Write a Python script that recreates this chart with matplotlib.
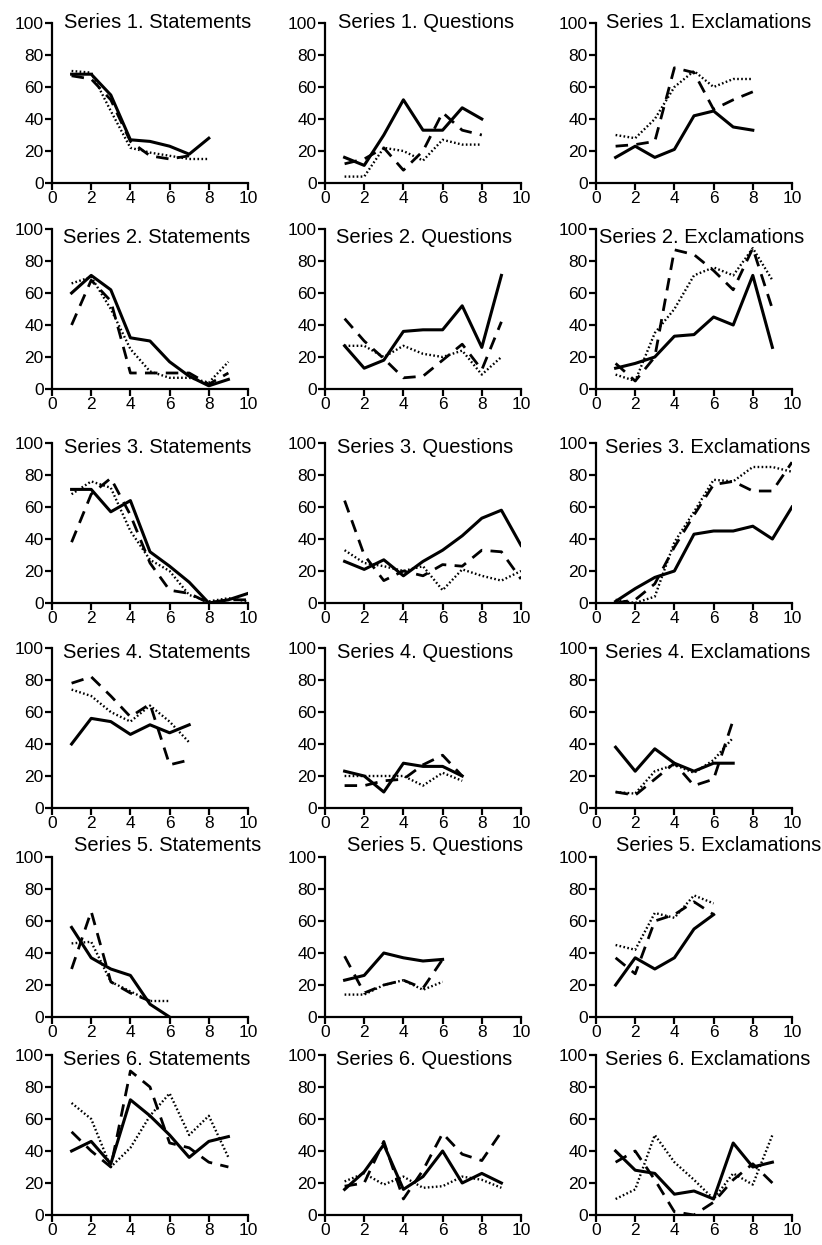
import matplotlib
matplotlib.use("Agg")
import matplotlib.pyplot as plt

plt.rcParams['font.family'] = ['Liberation Sans', 'DejaVu Sans']

# each panel: (solid, dashed, dotted), x runs 1..len
s1_statements = ([68, 68, 55, 27, 26, 23, 18, 28],
                 [67, 65, 52, 26, 17, 15, 17],
                 [70, 69, 45, 22, 19, 17, 15, 15])
s1_questions = ([16, 11, 30, 52, 33, 33, 47, 40],
                [12, 15, 22, 8, 20, 44, 33, 30],
                [4, 4, 22, 20, 14, 27, 24, 24])
s1_exclamations = ([16, 23, 16, 21, 42, 45, 35, 33],
                   [23, 24, 26, 72, 69, 46, 52, 57],
                   [30, 28, 40, 60, 70, 60, 65, 65])

s2_statements = ([60, 71, 62, 32, 30, 17, 8, 2, 6],
                 [40, 68, 55, 10, 10, 10, 10, 3, 10],
                 [66, 70, 50, 25, 11, 7, 7, 4, 17])
s2_questions = ([27, 13, 18, 36, 37, 37, 52, 26, 71],
                [44, 30, 19, 7, 8, 18, 28, 12, 42],
                [27, 27, 20, 27, 22, 20, 24, 9, 20])
s2_exclamations = ([13, 16, 20, 33, 34, 45, 40, 71, 26],
                   [16, 5, 20, 87, 84, 74, 62, 88, 50],
                   [9, 5, 35, 50, 71, 76, 71, 88, 68])

s3_statements = ([71, 71, 57, 64, 32, 23, 13, 0, 2, 6],
                 [38, 68, 78, 55, 25, 8, 6, 0, 2, 2],
                 [68, 76, 72, 45, 27, 20, 5, 1, 3, 1])
s3_questions = ([26, 21, 27, 17, 26, 33, 42, 53, 58, 36],
                [64, 30, 14, 20, 17, 24, 23, 33, 32, 15],
                [33, 25, 23, 20, 23, 8, 21, 17, 14, 20])
s3_exclamations = ([1, 9, 16, 20, 43, 45, 45, 48, 40, 60],
                   [0, 2, 12, 35, 55, 74, 76, 70, 70, 88],
                   [2, 0, 4, 38, 57, 77, 76, 85, 85, 82])

s4_statements = ([40, 56, 54, 46, 52, 47, 52],
                 [78, 82, 70, 57, 65, 27, 30],
                 [74, 70, 60, 54, 64, 54, 41])
s4_questions = ([23, 20, 10, 28, 26, 26, 20],
                [14, 14, 17, 18, 27, 33, 20],
                [20, 20, 20, 20, 14, 22, 17])
s4_exclamations = ([38, 23, 37, 28, 23, 28, 28],
                   [10, 8, 18, 28, 14, 18, 55],
                   [10, 9, 23, 27, 22, 30, 44])

s5_statements = ([56, 37, 30, 26, 8, 0],
                 [30, 66, 22, 15, 10],
                 [46, 47, 22, 16, 10, 10])
s5_questions = ([23, 26, 40, 37, 35, 36],
                [38, 15, 20, 23, 18, 36],
                [14, 14, 20, 23, 17, 22])
s5_exclamations = ([20, 37, 30, 37, 55, 64],
                   [37, 27, 60, 64, 72, 64],
                   [45, 42, 65, 62, 76, 71])

s6_statements = ([40, 46, 32, 72, 62, 50, 36, 46, 49],
                 [52, 40, 30, 90, 80, 45, 42, 33, 30],
                 [70, 60, 30, 42, 62, 76, 50, 62, 36])
s6_questions = ([16, 27, 44, 16, 24, 40, 20, 26, 20],
                [18, 20, 46, 10, 28, 51, 38, 34, 52],
                [21, 26, 19, 24, 17, 18, 24, 22, 17])
s6_exclamations = ([40, 28, 26, 13, 15, 10, 45, 30, 33],
                   [33, 40, 22, 2, 0, 8, 22, 32, 20],
                   [10, 16, 50, 33, 22, 10, 26, 19, 50])

panels = [
    [s1_statements, s1_questions, s1_exclamations],
    [s2_statements, s2_questions, s2_exclamations],
    [s3_statements, s3_questions, s3_exclamations],
    [s4_statements, s4_questions, s4_exclamations],
    [s5_statements, s5_questions, s5_exclamations],
    [s6_statements, s6_questions, s6_exclamations],
]
kinds = ['Statements', 'Questions', 'Exclamations']

W, H = 822, 1245
fig = plt.figure(figsize=(W / 100, H / 100), dpi=100)

col_left = [52, 325, 596]
row_top = [23, 229, 443, 648, 857, 1055]
ax_w, ax_h = 196, 160
title_y = [97, 91, 94, 94, 104, 94]
title_x = [[0.6, 0.65, 0.5], [0.55, 0.55, 0.15], [0.6, 0.6, 0.45],
           [0.55, 0.6, 0.45], [1.1, 1.1, 1.0], [0.55, 0.55, 0.45]]

styles = [dict(color='black', lw=2.2, ls='-'),
          dict(color='black', lw=2.0, ls=(0, (4.5, 3))),
          dict(color='black', lw=1.7, ls=(0, (0.7, 1.0)))]

for r in range(6):
    for c in range(3):
        ax = fig.add_axes([col_left[c] / W, 1 - (row_top[r] + ax_h) / H, ax_w / W, ax_h / H])
        for series, st in zip(panels[r][c], styles):
            xs = list(range(1, len(series) + 1))
            ax.plot(xs, series, **st)
        ax.set_xlim(0, 10)
        ax.set_ylim(0, 100)
        ax.set_xticks([0, 2, 4, 6, 8, 10])
        ax.set_yticks([0, 20, 40, 60, 80, 100])
        ax.spines['top'].set_visible(False)
        ax.spines['right'].set_visible(False)
        ax.spines['left'].set_linewidth(1.6)
        ax.spines['bottom'].set_linewidth(1.6)
        ax.tick_params(direction='out', length=5, width=1.6, labelsize=12.5, pad=1)
        ax.text(title_x[r][c], title_y[r], 'Series %d. %s' % (r + 1, kinds[c]),
                fontsize=14.5, va='baseline', ha='left', clip_on=False)

fig.savefig('out.png', dpi=100)
